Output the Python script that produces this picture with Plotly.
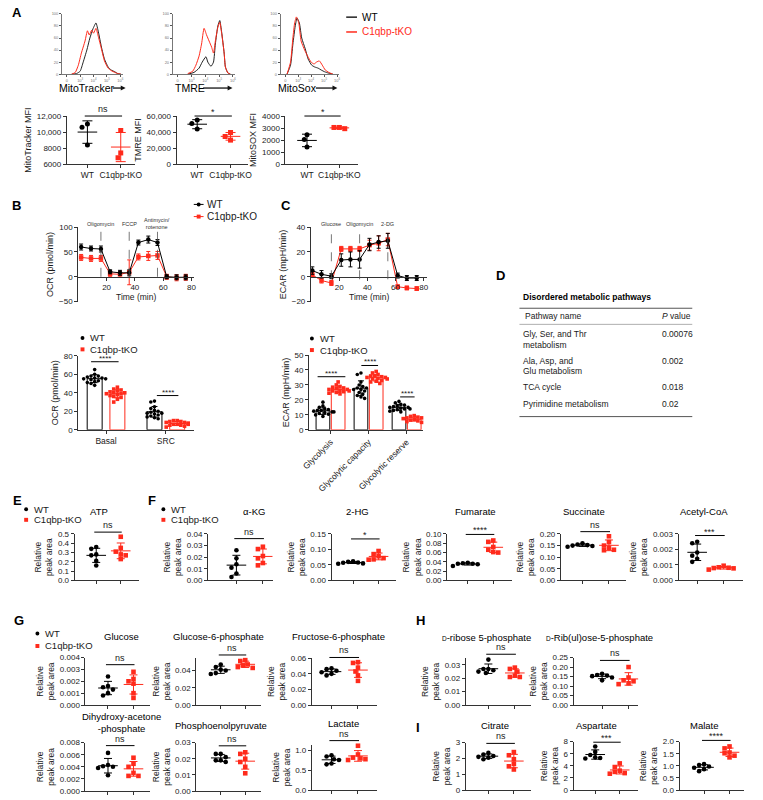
import numpy as np
import plotly.graph_objects as go

W, H = 763, 800
RED = "#FF2B1C"
BLACK = "#000000"
AXC = "#333333"
TXT = "#1a1a1a"
FONT = "Liberation Sans, Arial, Helvetica, sans-serif"

# ---------------- DATA ----------------
# Panel A flow histograms (x: relative channel 0-100, y: % of max)
HIST_MT_WT_X = [16, 24, 30, 35, 41, 46, 51, 56, 60, 65, 70, 76, 81, 87, 92, 97]
HIST_MT_WT_Y = [0, 1, 5, 20, 40, 60, 75, 85, 70, 45, 25, 12, 7, 4, 1, 0]
HIST_MT_KO_X = [16, 22, 27, 32, 38, 42, 45, 49, 52, 56, 60, 65, 70, 76, 81, 87, 92, 97]
HIST_MT_KO_Y = [0, 3, 15, 35, 55, 72, 65, 73, 68, 76, 62, 42, 22, 10, 6, 3, 1, 0]
HIST_TMRE_WT_X = [24, 34, 42, 47, 53, 56, 61, 65, 68, 72, 75, 78, 82, 84, 88, 92]
HIST_TMRE_WT_Y = [0, 3, 10, 20, 29, 20, 13, 20, 50, 80, 89, 70, 35, 12, 2, 0]
HIST_TMRE_KO_X = [24, 32, 37, 42, 46, 50, 54, 58, 62, 65, 68, 72, 75, 78, 82, 84, 88, 92]
HIST_TMRE_KO_Y = [1, 5, 15, 30, 50, 76, 65, 55, 45, 35, 55, 78, 86, 68, 35, 12, 2, 0]
HIST_SOX_WT_X = [11, 17, 21, 25, 28, 32, 36, 42, 47, 53, 58, 64, 69, 75, 81, 89]
HIST_SOX_WT_Y = [0, 15, 50, 80, 93, 85, 60, 42, 25, 15, 12, 10, 7, 4, 2, 0]
HIST_SOX_KO_X = [11, 17, 21, 24, 27, 31, 35, 41, 46, 52, 57, 61, 66, 71, 76, 82, 89]
HIST_SOX_KO_Y = [0, 20, 60, 85, 95, 85, 55, 40, 30, 20, 17, 20, 22, 15, 7, 3, 0]

# Panel A MFI
MITOTRACKER_WT = [11000, 10600, 8400]
MITOTRACKER_KO = [10200, 7400, 6800]
TMRE_WT = [55000, 50600, 43800]
TMRE_KO = [39500, 34500, 30000]
MITOSOX_WT = [2450, 2050, 1420]
MITOSOX_KO = [2950, 3050, 3050]

# Panel B/C Seahorse kinetics
OCR_TIME = [2, 9, 16, 22.5, 29.5, 36, 42.5, 49.5, 56, 62.5, 69.5, 76]
OCR_WT = [60, 57, 56, 10, 8, 8, 69, 75, 69, 0, -1, -1]
OCR_WT_SD = [6, 5, 6, 4, 5, 6, 5, 7, 6, 4, 5, 5]
OCR_KO = [39, 37, 37, 6, 5, 9, 40, 42, 43, 0, -2, -1]
OCR_KO_SD = [6, 6, 6, 5, 6, 25, 6, 9, 8, 5, 6, 6]
OCR_INJECTIONS = [16, 36, 56]
OCR_INJ_LABELS = ["Oligomycin", "FCCP", "Antimycin/<br>rotenone"]

ECAR_TIME = [1, 7.5, 14.5, 21.5, 28, 34.5, 41.5, 48, 54.5, 61.5, 68, 75]
ECAR_WT = [5, 2, 0.5, 13.5, 14, 14, 26, 28, 29, 1, -1, -1]
ECAR_WT_SD = [3, 3, 2, 5, 6, 7, 5, 5, 6, 2, 2, 2]
ECAR_KO = [1.5, -3, -5, 22.5, 22.5, 22.5, 25.5, 27, 30, -8, -9, -9.5]
ECAR_KO_SD = [2, 2, 2, 2, 2, 2, 4, 6, 5, 1.5, 1.5, 1.5]
ECAR_INJECTIONS = [14.5, 34.5, 54.5]
ECAR_INJ_LABELS = ["Glucose", "Oligomycin", "2-DG"]

# Panel B/C bar summaries
OCR_CATS = ["Basal", "SRC"]
OCR_BASAL_WT = [65, 60, 58, 58, 57, 56, 56, 55, 55, 54, 53, 52, 51, 50, 48]
OCR_BASAL_KO = [46, 44, 43, 42, 41, 40, 40, 39, 39, 38, 37, 36, 35, 33, 30]
OCR_SRC_WT = [31, 30, 25, 23, 21, 20, 19, 18, 18, 17, 16, 15, 14, 13, 12]
OCR_SRC_KO = [10, 10, 9, 9, 8, 8, 7, 7, 6, 6, 6, 5, 5, 4, 3]
ECAR_CATS = ["Glycolysis", "Glycolytic capacity", "Glycolytic reserve"]
ECAR_GLY_WT = [18.5, 16, 15, 14, 13.5, 13, 13, 12.5, 12, 12, 11.5, 11, 10.5, 10, 9]
ECAR_GLY_KO = [32, 30, 29, 28.5, 28, 27.5, 27, 27, 26.5, 26, 26, 25.5, 25, 24.5, 24]
ECAR_CAP_WT = [38, 37, 32, 30, 29, 28, 28, 27, 27, 26, 25, 24, 23, 22, 21]
ECAR_CAP_KO = [39, 38, 37, 36, 36, 35.5, 35, 35, 34.5, 34, 34, 33, 32.5, 32, 31]
ECAR_RES_WT = [19, 18, 17, 16.5, 16, 15.5, 15, 15, 14.5, 14, 14, 13.5, 13, 12.5, 12]
ECAR_RES_KO = [9.5, 9, 8.5, 8, 8, 7.5, 7, 7, 7, 6.5, 6.5, 6, 6, 5.5, 5]

# Panel D
PATHWAYS = [["Gly, Ser, and Thr", "metabolism"], ["Ala, Asp, and", "Glu metabolism"],
            ["TCA cycle"], ["Pyrimidine metabolism"]]
P_VALUES = ["0.00076", "0.002", "0.018", "0.02"]

# Panels E-I metabolite relative peak areas
ATP_WT = [0.36, 0.34, 0.28, 0.27, 0.21, 0.16]
ATP_KO = [0.47, 0.35, 0.31, 0.28, 0.27, 0.23]
AKG_WT = [0.026, 0.019, 0.014, 0.011, 0.006, 0.003]
AKG_KO = [0.029, 0.027, 0.021, 0.019, 0.015, 0.013]
HG2_WT = [0.062, 0.060, 0.058, 0.057, 0.055, 0.054]
HG2_KO = [0.095, 0.085, 0.078, 0.072, 0.068, 0.067]
FUM_WT = [0.038, 0.037, 0.036, 0.036, 0.035, 0.031]
FUM_KO = [0.086, 0.083, 0.072, 0.066, 0.061, 0.060]
SUC_WT = [0.160, 0.155, 0.152, 0.150, 0.148, 0.145]
SUC_KO = [0.190, 0.165, 0.150, 0.140, 0.132, 0.130]
ACOA_WT = [0.0025, 0.0024, 0.0018, 0.0016, 0.0014, 0.0012]
ACOA_KO = [0.00095, 0.00085, 0.00082, 0.00080, 0.00078, 0.00070]
GLC_WT = [0.0024, 0.0016, 0.0015, 0.0013, 0.0010, 0.0008]
GLC_KO = [0.0028, 0.0022, 0.0020, 0.0018, 0.0010, 0.0006]
G6P_WT = [0.047, 0.044, 0.041, 0.040, 0.037, 0.036]
G6P_KO = [0.052, 0.051, 0.047, 0.046, 0.044, 0.043]
F6P_WT = [0.047, 0.046, 0.044, 0.042, 0.040, 0.038]
F6P_KO = [0.055, 0.054, 0.048, 0.043, 0.038, 0.031]
DHAP_WT = [0.0063, 0.0043, 0.0041, 0.0040, 0.0038, 0.0026]
DHAP_KO = [0.0055, 0.0045, 0.0040, 0.0030, 0.0025, 0.0025]
PEP_WT = [0.023, 0.023, 0.021, 0.019, 0.019, 0.018]
PEP_KO = [0.024, 0.023, 0.020, 0.018, 0.015, 0.011]
LAC_WT = [0.88, 0.85, 0.78, 0.76, 0.67, 0.65]
LAC_KO = [1.12, 0.90, 0.82, 0.80, 0.78, 0.76]
R5P_WT = [0.034, 0.027, 0.027, 0.026, 0.025, 0.024]
R5P_KO = [0.028, 0.027, 0.025, 0.022, 0.021, 0.021]
RU5P_WT = [0.165, 0.158, 0.155, 0.152, 0.145, 0.130]
RU5P_KO = [0.200, 0.145, 0.130, 0.125, 0.115, 0.110]
CIT_WT = [2.35, 2.25, 2.15, 2.10, 2.05, 1.95]
CIT_KO = [2.40, 2.20, 1.95, 1.65, 1.50, 1.30]
ASP_WT = [7.2, 6.3, 5.8, 5.4, 5.3, 5.2]
ASP_KO = [4.4, 3.8, 3.2, 3.0, 2.8, 2.7]
MAL_WT = [1.07, 1.03, 0.97, 0.92, 0.86, 0.78]
MAL_KO = [1.80, 1.72, 1.55, 1.52, 1.42, 1.35]

# ---------------- HELPERS ----------------
fig = go.Figure()
LAYOUT = {}
SHAPES = []
ANNS = []
_n = [0]
NOHOVER = dict(showlegend=False, hoverinfo="skip")


def px_x(p):
    return p / W


def px_y(p):
    return 1 - p / H


def lin(v, r, d):
    return d[0] + (v - r[0]) / (r[1] - r[0]) * (d[1] - d[0])


def base_axis():
    return dict(showline=True, linecolor=AXC, linewidth=1, ticks="outside",
                ticklen=3, tickwidth=1, tickcolor=AXC, showgrid=False,
                zeroline=False, fixedrange=True,
                tickfont=dict(family=FONT, size=8, color=TXT))


def new_axes(x0, x1, ytop, ybot, xkw, ykw):
    _n[0] += 1
    s = "" if _n[0] == 1 else str(_n[0])
    xd = [px_x(x0), px_x(x1)]
    yd = [px_y(ybot), px_y(ytop)]
    xa = base_axis()
    xa.update(domain=xd, anchor="y" + s)
    xa.update(xkw)
    ya = base_axis()
    ya.update(domain=yd, anchor="x" + s)
    ya.update(ykw)
    LAYOUT["xaxis" + s] = xa
    LAYOUT["yaxis" + s] = ya
    return dict(x="x" + s, y="y" + s, xd=xd, yd=yd, xa=xa, ya=ya)


def ptext(xp, yp, s, size=9, color=TXT, xanchor="center", yanchor="middle",
          bold=False, angle=0):
    ANNS.append(dict(x=px_x(xp), y=px_y(yp), xref="paper", yref="paper",
                     text=f"<b>{s}</b>" if bold else s, showarrow=False,
                     xanchor=xanchor, yanchor=yanchor, textangle=angle,
                     font=dict(family=FONT, size=size, color=color)))


def pline(x0, y0, x1, y1, color=AXC, width=1, dash=None):
    SHAPES.append(dict(type="line", xref="paper", yref="paper",
                       x0=px_x(x0), x1=px_x(x1), y0=px_y(y0), y1=px_y(y1),
                       line=dict(color=color, width=width, dash=dash)))


def parrow(x0, x1, y, color="#111"):
    pline(x0, y, x1 - 3, y, color=color, width=1.3)
    path = "M {} {} L {} {} L {} {} Z".format(
        px_x(x1), px_y(y), px_x(x1 - 5), px_y(y - 2.6), px_x(x1 - 5), px_y(y + 2.6))
    SHAPES.append(dict(type="path", xref="paper", yref="paper", path=path,
                       fillcolor=color, line=dict(width=0)))


def pmarker(xc, yc, r, color, kind="circle"):
    SHAPES.append(dict(type="circle" if kind == "circle" else "rect",
                       xref="paper", yref="paper",
                       x0=px_x(xc - r), x1=px_x(xc + r),
                       y0=px_y(yc + r), y1=px_y(yc - r),
                       fillcolor=color, line=dict(width=0)))


def legend_pair(x, y_wt, y_ko, with_line=False, size=9.5):
    if with_line:
        pline(x - 5, y_wt, x + 5, y_wt, color=BLACK, width=1)
        pline(x - 5, y_ko, x + 5, y_ko, color=RED, width=1)
    pmarker(x, y_wt, 2.0, BLACK, "circle")
    pmarker(x, y_ko, 2.0, RED, "rect")
    ptext(x + 6, y_wt, "WT", size=size, xanchor="left")
    ptext(x + 6, y_ko, "C1qbp-tKO", size=size, xanchor="left")


def panel_letter(x, y, s):
    ptext(x, y, s, size=13, bold=True, xanchor="left", color=BLACK)


def swarm(vals, yr, hpx, unit_px, d=4.6):
    scale = hpx / (yr[1] - yr[0])
    order = sorted(range(len(vals)), key=lambda i: -vals[i])
    placed = []
    offs = [0.0] * len(vals)
    for i in order:
        y = vals[i] * scale
        x = 0.0
        for k in [0, -1, 1, -2, 2, -3, 3, -4, 4, -5, 5, -6, 6]:
            x = k * d * 0.55
            if all((x - a) ** 2 + (y - b) ** 2 >= d * d for a, b in placed):
                break
        placed.append((x, y))
        offs[i] = x / unit_px
    return offs


def group_points(ax, center, vals, color, symbol, yr, hpx, unit_px, msize=4.6,
                 mean_half_px=10, cap=4):
    offs = swarm(vals, yr, hpx, unit_px, d=msize)
    fig.add_trace(go.Scatter(x=[center + o for o in offs], y=vals, mode="markers",
                             xaxis=ax["x"], yaxis=ax["y"], cliponaxis=False,
                             marker=dict(symbol=symbol, size=msize, color=color,
                                         line=dict(width=0)), **NOHOVER))
    m = float(np.mean(vals))
    s = float(np.std(vals, ddof=1))
    h = mean_half_px / unit_px
    fig.add_trace(go.Scatter(x=[center - h, center + h], y=[m, m], mode="lines",
                             xaxis=ax["x"], yaxis=ax["y"],
                             line=dict(color=color, width=1), **NOHOVER))
    fig.add_trace(go.Scatter(x=[center], y=[m], mode="markers",
                             xaxis=ax["x"], yaxis=ax["y"], cliponaxis=False,
                             marker=dict(size=1, color="rgba(0,0,0,0)"),
                             error_y=dict(type="data", array=[s], color=color,
                                          thickness=1, width=cap),
                             **NOHOVER))


def sig_mark(ax, yr, x0, x1, yval, label, size=9):
    py = lin(yval, yr, ax["yd"])
    SHAPES.append(dict(type="line", xref=ax["x"], yref="paper", x0=x0, x1=x1,
                       y0=py, y1=py, line=dict(color=BLACK, width=1)))
    ANNS.append(dict(x=(x0 + x1) / 2, y=py, xref=ax["x"], yref="paper", text=label,
                     showarrow=False, yanchor="bottom",
                     yshift=-3 if label.startswith("*") else 0,
                     font=dict(family=FONT, size=size, color=TXT)))


def dot_plot(left, top, bot, wt, ko, yr, tickvals, ticktext, sig, sig_val,
             ytitle, width=66, wt_off=24, ko_off=50, xlabels=None,
             ytitle_size=8.5, cap=4, tick_size=8, msize=4.6):
    unit = ko_off - wt_off
    xr = [-wt_off / unit, (width - wt_off) / unit]
    xkw = dict(range=xr, tickvals=[0, 1],
               tickfont=dict(family=FONT, size=tick_size, color=TXT))
    if xlabels:
        xkw["ticktext"] = list(xlabels)
    else:
        xkw["showticklabels"] = False
    ax = new_axes(left, left + width, top, bot, xkw,
                  dict(range=yr, tickvals=tickvals, ticktext=ticktext,
                       title=dict(text=ytitle, standoff=3,
                                  font=dict(family=FONT, size=ytitle_size, color=TXT))))
    hpx = bot - top
    group_points(ax, 0, wt, BLACK, "circle", yr, hpx, unit, cap=cap, msize=msize)
    group_points(ax, 1, ko, RED, "square", yr, hpx, unit, cap=cap, msize=msize)
    sig_mark(ax, yr, -0.08, 1.04, sig_val, sig)
    return ax


def fmt_ticks(top, step, fmt):
    vals = list(np.round(np.arange(0, top + step * 1e-6, step), 6))
    if fmt == "d":
        txt = [str(int(round(v))) for v in vals]
    else:
        txt = [format(v, fmt) for v in vals]
    return vals, txt


# ---------------- PANEL A ----------------
panel_letter(2, 9, "A")


def add_hist(x0, x1, wx, wy, kx, ky):
    tick = dict(family=FONT, size=4, color="#777")
    ax = new_axes(x0, x1, 10, 71,
                  dict(range=[0, 100], tickvals=[8, 30, 52, 74, 96],
                       ticktext=["0", "10<sup>3</sup>", "10<sup>4</sup>",
                                 "10<sup>5</sup>", "10<sup>6</sup>"],
                       tickfont=tick, ticklen=2, linecolor="#555", linewidth=0.8,
                       tickcolor="#555"),
                  dict(range=[0, 100], tickvals=[0, 20, 40, 60, 80, 100],
                       ticktext=["0", "20", "40", "60", "80", "100"],
                       tickfont=tick, ticklen=2, linecolor="#555", linewidth=0.8,
                       tickcolor="#555"))
    fig.add_trace(go.Scatter(x=wx, y=wy, mode="lines", xaxis=ax["x"], yaxis=ax["y"],
                             line=dict(color="#222", width=1, shape="spline",
                                       smoothing=0.5), **NOHOVER))
    fig.add_trace(go.Scatter(x=kx, y=ky, mode="lines", xaxis=ax["x"], yaxis=ax["y"],
                             line=dict(color=RED, width=1, shape="spline",
                                       smoothing=0.5), **NOHOVER))


add_hist(55, 117, HIST_MT_WT_X, HIST_MT_WT_Y, HIST_MT_KO_X, HIST_MT_KO_Y)
add_hist(168, 232, HIST_TMRE_WT_X, HIST_TMRE_WT_Y, HIST_TMRE_KO_X, HIST_TMRE_KO_Y)
add_hist(278, 338, HIST_SOX_WT_X, HIST_SOX_WT_Y, HIST_SOX_KO_X, HIST_SOX_KO_Y)


def hist_label(x_text, text, ax0, ax1):
    ptext(x_text, 85, text, size=10.5, xanchor="left", color=BLACK)
    parrow(ax0, ax1, 85)


hist_label(50, "MitoTracker", 107, 120)
hist_label(168, "TMRE", 199, 229)
hist_label(273, "MitoSox", 314, 336)

pline(345, 13.3, 356, 13.3, color="#222", width=1.5)
pline(345, 28.3, 356, 28.3, color=RED, width=1.5)
ptext(359, 13.3, "WT", size=10, xanchor="left", color=BLACK)
ptext(359, 28.3, "C1qbp-tKO", size=10, xanchor="left", color=RED)

a_specs = [
    (60, 70, 21, 55, MITOTRACKER_WT, MITOTRACKER_KO, [6000, 12000],
     [6000, 8000, 10000, 12000], ["6000", "8000", "10,000", "12,000"], "ns", 12000,
     "MitoTracker MFI"),
    (172, 73, 21, 55, TMRE_WT, TMRE_KO, [0, 60000],
     [0, 20000, 40000, 60000], ["0", "20,000", "40,000", "60,000"], "*", 60000,
     "TMRE MFI"),
    (283, 74, 22, 55, MITOSOX_WT, MITOSOX_KO, [0, 4000],
     [0, 1000, 2000, 3000, 4000], ["0", "1000", "2000", "3000", "4000"], "*", 4000,
     "MitoSOX MFI"),
]
for left, width, wo, ko_, wt, ko, yr, tv, tt, sig, sv, yt in a_specs:
    dot_plot(left, 113.3, 162, wt, ko, yr, tv, tt, sig, sv, yt, width=width,
             wt_off=wo, ko_off=ko_, xlabels=("WT", "C1qbp-tKO"), ytitle_size=9,
             cap=5, tick_size=8.5, msize=5)

# ---------------- PANEL B / C kinetics ----------------
panel_letter(2, 203.5, "B")
panel_letter(276, 203.5, "C")


def kinetics(left, right, yr, ytv, ytt, t, wt, wsd, ko, ksd, inj, inj_lab, ytitle,
             line_top, line_bot):
    ax = new_axes(left, right, 225.7, 301,
                  dict(range=[0, 82], tickvals=[20, 40, 60, 80],
                       ticktext=["20", "40", "60", "80"]),
                  dict(range=yr, tickvals=ytv, ticktext=ytt,
                       title=dict(text=ytitle, standoff=3,
                                  font=dict(family=FONT, size=9, color=TXT))))
    ax["xa"]["anchor"] = "free"
    ax["xa"]["position"] = lin(0, yr, ax["yd"])
    for ti, lab in zip(inj, inj_lab):
        SHAPES.append(dict(type="line", xref=ax["x"], yref=ax["y"], x0=ti, x1=ti,
                           y0=line_bot, y1=line_top,
                           line=dict(color="#555", width=0.8, dash="dash")))
        ANNS.append(dict(x=ti, y=px_y(222.5), xref=ax["x"], yref="paper", text=lab,
                         showarrow=False, yanchor="middle",
                         font=dict(family=FONT, size=5.5, color="#333")))
    for vals, sd, col, sym in [(ko, ksd, RED, "square"), (wt, wsd, BLACK, "circle")]:
        fig.add_trace(go.Scatter(x=t, y=vals, mode="lines+markers",
                                 xaxis=ax["x"], yaxis=ax["y"], cliponaxis=False,
                                 line=dict(color=col, width=1),
                                 marker=dict(symbol=sym, size=4.5, color=col),
                                 error_y=dict(type="data", array=sd, color=col,
                                              thickness=1, width=2),
                                 **NOHOVER))
    ANNS.append(dict(x=0.5, y=px_y(296), xref=ax["x"] + " domain", yref="paper",
                     text="Time (min)", showarrow=False,
                     font=dict(family=FONT, size=8.5, color=TXT)))
    return ax


kinetics(71.7, 190, [-50, 100], [-50, 0, 50, 100], ["\u221250", "0", "50", "100"],
         OCR_TIME, OCR_WT, OCR_WT_SD, OCR_KO, OCR_KO_SD, OCR_INJECTIONS,
         OCR_INJ_LABELS, "OCR (pmol/min)", 96, 0)
kinetics(309, 427, [-20, 40], [-20, 0, 20, 40], ["\u221220", "0", "20", "40"],
         ECAR_TIME, ECAR_WT, ECAR_WT_SD, ECAR_KO, ECAR_KO_SD, ECAR_INJECTIONS,
         ECAR_INJ_LABELS, "ECAR (mpH/min)", 38.5, -2)

legend_pair(194.5, 202.7, 215, with_line=True, size=10)

# ---------------- PANEL B / C bars ----------------


def bar_plot(left, right, top, bot, yr, ytv, cats, cat0_px, unit, off, barw,
             groups, sigs, ytitle, tickangle=0):
    xr = [(left - cat0_px) / unit, (right - cat0_px) / unit]
    ax = new_axes(left, right, top, bot,
                  dict(range=xr, tickvals=list(range(len(cats))), ticktext=cats,
                       tickangle=tickangle,
                       tickfont=dict(family=FONT, size=8.5, color=TXT)),
                  dict(range=yr, tickvals=ytv, ticktext=[str(v) for v in ytv],
                       title=dict(text=ytitle, standoff=3,
                                  font=dict(family=FONT, size=9, color=TXT))))
    hpx = bot - top
    for side, col, sym in [(0, BLACK, "circle"), (1, RED, "square")]:
        xs = [c + (off if side else -off) for c in range(len(cats))]
        sets = [g[side] for g in groups]
        means = [float(np.mean(s)) for s in sets]
        sds = [float(np.std(s, ddof=1)) for s in sets]
        fig.add_trace(go.Bar(x=xs, y=means, width=barw, xaxis=ax["x"], yaxis=ax["y"],
                             marker=dict(color="white", line=dict(color=col, width=1)),
                             error_y=dict(type="data", array=sds, color=col,
                                          thickness=1, width=3),
                             **NOHOVER))
        for x, s in zip(xs, sets):
            offs = swarm(s, yr, hpx, unit, d=3.4)
            fig.add_trace(go.Scatter(x=[x + o for o in offs], y=s, mode="markers",
                                     xaxis=ax["x"], yaxis=ax["y"], cliponaxis=False,
                                     marker=dict(symbol=sym, size=3.6, color=col),
                                     **NOHOVER))
    for x0, x1, yv, lab in sigs:
        sig_mark(ax, yr, x0, x1, yv, lab, size=8)
    return ax


bar_plot(71.7, 190, 355.7, 430.7, [0, 80], [0, 20, 40, 60, 80], OCR_CATS, 100, 61,
         0.19, 0.25,
         [(OCR_BASAL_WT, OCR_BASAL_KO), (OCR_SRC_WT, OCR_SRC_KO)],
         [(-0.25, 0.21, 73.5, "****"), (0.85, 1.21, 37, "****")],
         "OCR (pmol/min)")
bar_plot(307, 423, 355, 430.7, [0, 50], [0, 10, 20, 30, 40, 50], ECAR_CATS, 329, 38.8,
         0.2, 0.36,
         [(ECAR_GLY_WT, ECAR_GLY_KO), (ECAR_CAP_WT, ECAR_CAP_KO),
          (ECAR_RES_WT, ECAR_RES_KO)],
         [(-0.34, 0.39, 35.5, "****"), (0.81, 1.25, 43, "****"),
          (1.83, 2.21, 22, "****")],
         "ECAR (mpH/min)", tickangle=-45)

legend_pair(76, 337.7, 349.3)
legend_pair(310, 338.3, 350)

# ---------------- PANEL D table ----------------
panel_letter(496, 275, "D")
ptext(523, 296, "Disordered metabolic pathways", size=8.5, bold=True, xanchor="left",
      color=BLACK)
pline(521.7, 307.7, 698, 307.7, color="#555", width=1)
ptext(525.5, 316, "Pathway name", size=8.5, xanchor="left")
ptext(665.5, 316, "<i>P</i> value", size=8.5, xanchor="left")
pline(521.7, 324, 698, 324, color="#999", width=0.8)
row_y = [334, 361, 387.7, 404.3]
for lines, pv, y in zip(PATHWAYS, P_VALUES, row_y):
    for j, ln in enumerate(lines):
        ptext(523.5, y + j * 10.4, ln, size=8.5, xanchor="left")
    ptext(665.5, y, pv, size=8.5, xanchor="left")
pline(521.7, 417.3, 698, 417.3, color="#555", width=1)

# ---------------- PANELS E-I ----------------
panel_letter(3, 501.7, "E")
panel_letter(141, 501.7, "F")
panel_letter(4, 623.3, "G")
panel_letter(414, 623.3, "H")
panel_letter(414, 731.7, "I")
legend_pair(18.5, 511, 521.7)
legend_pair(158.5, 511, 521.7)
legend_pair(30, 636.7, 649.3)

SMALL_D = "<span style='font-size:6.5px'>D</span>"
dot_specs = [
    ("ATP", ATP_WT, ATP_KO, 68, 536, 583, [0, 0.5], 0.1, ".1f", "ns", 0.52, 93, 513, 22, 47),
    ("\u03b1-KG", AKG_WT, AKG_KO, 204, 536, 583, [0, 0.04], 0.01, ".2f", "ns", 0.036, 251, 513, 29, 56),
    ("2-HG", HG2_WT, HG2_KO, 330, 536, 583, [0, 0.15], 0.05, ".2f", "*", 0.134, 356, 513, 22, 48),
    ("Fumarate", FUM_WT, FUM_KO, 448, 536, 583, [0, 0.10], 0.02, ".2f", "****", 0.099, 477, 513, 21, 47),
    ("Succinate", SUC_WT, SUC_KO, 564, 536, 583, [0, 0.20], 0.05, ".2f", "ns", 0.21, 588, 513, 22, 49),
    ("Acetyl-CoA", ACOA_WT, ACOA_KO, 684, 536, 583, [0, 0.003], 0.001, ".3f", "***", 0.0029, 710, 513, 19, 46),
    ("Glucose", GLC_WT, GLC_KO, 79, 661, 709, [0, 0.004], 0.001, ".3f", "ns", 0.0034, 116, 640, 23, 49),
    ("Glucose-6-phosphate", G6P_WT, G6P_KO, 192, 661, 709, [0, 0.055], 0.02, ".2f", "ns", 0.058, 215, 640, 25, 50),
    ("Fructose-6-phosphate", F6P_WT, F6P_KO, 310, 661.7, 709, [0, 0.06], 0.02, ".2f", "ns", 0.061, 337, 640, 20, 47),
    ("Dihydroxy-acetone<br>-phosphate", DHAP_WT, DHAP_KO, 79, 747, 796, [0, 0.008], 0.002, ".3f", "ns", 0.0075, 116, 727, 23, 49),
    ("Phosphoenolpyruvate", PEP_WT, PEP_KO, 192, 747, 796, [0, 0.03], 0.01, ".2f", "ns", 0.028, 217, 730, 25, 50),
    ("Lactate", LAC_WT, LAC_KO, 310, 749, 795, [0, 1.15], 0.5, ".1f", "ns", 1.25, 342, 728, 20, 47),
    (SMALL_D + "-ribose 5-phosphate", R5P_WT, R5P_KO, 467, 661.7, 709, [0, 0.035], 0.01, ".2f", "ns", 0.038, 488, 641, 23, 50),
    (SMALL_D + "-Rib(ul)ose-5-phosphate", RU5P_WT, RU5P_KO, 577, 661, 709, [0, 0.25], 0.05, ".2f", "ns", 0.235, 603, 641, 29, 56),
    ("Citrate", CIT_WT, CIT_KO, 467, 747, 795, [0, 3], 1, "d", "ns", 2.95, 497, 730, 23, 49),
    ("Aspartate", ASP_WT, ASP_KO, 577, 746, 795, [0, 8], 2, "d", "***", 7.9, 600, 730, 22, 47),
    ("Malate", MAL_WT, MAL_KO, 685, 746, 795, [0, 2.0], 0.5, ".1f", "****", 2.05, 710, 730, 25, 51),
]
for (title, wt, ko, left, top, bot, yr, step, fmt, sig, sv, tx, ty, wo, kof) in dot_specs:
    tv, tt = fmt_ticks(yr[1], step, fmt)
    tv = [v for v in tv if v <= yr[1] + 1e-9]
    tt = tt[:len(tv)]
    dot_plot(left, top, bot, wt, ko, yr, tv, tt, sig, sv, "Relative<br>peak area",
             width=66, wt_off=wo, ko_off=kof)
    ptext(tx, ty, title, size=9.5, color=BLACK)

# ---------------- LAYOUT ----------------
fig.update_layout(**LAYOUT)
fig.update_layout(width=W, height=H, autosize=False,
                  margin=dict(l=0, r=0, t=0, b=0, pad=0),
                  paper_bgcolor="white", plot_bgcolor="rgba(0,0,0,0)",
                  showlegend=False, font=dict(family=FONT, color=TXT),
                  shapes=SHAPES, annotations=ANNS, bargap=0)

fig.write_html("out.html", config={"displayModeBar": False, "staticPlot": True},
               post_script="document.body.style.margin='0px';document.body.style.overflow='hidden';")
